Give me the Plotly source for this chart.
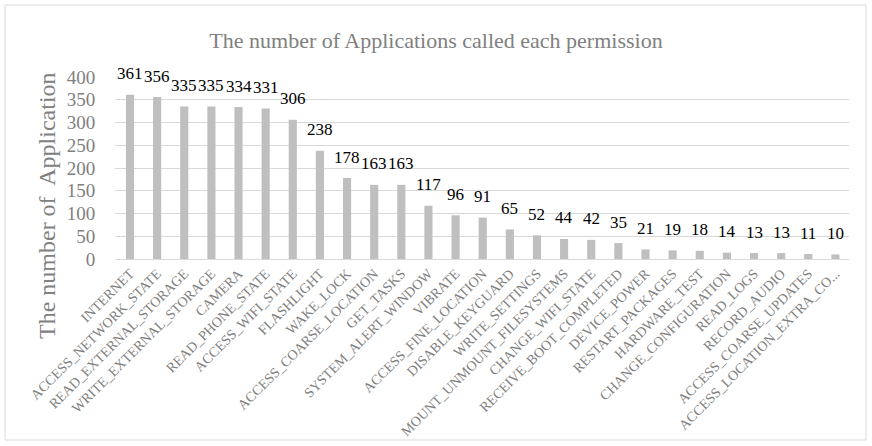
import plotly.graph_objects as go

categories = ["INTERNET", "ACCESS_NETWORK_STATE", "READ_EXTERNAL_STORAGE", "WRITE_EXTERNAL_STORAGE",
              "CAMERA", "READ_PHONE_STATE", "ACCESS_WIFI_STATE", "FLASHLIGHT", "WAKE_LOCK",
              "ACCESS_COARSE_LOCATION", "GET_TASKS", "SYSTEM_ALERT_WINDOW", "VIBRATE",
              "ACCESS_FINE_LOCATION", "DISABLE_KEYGUARD", "WRITE_SETTINGS", "MOUNT_UNMOUNT_FILESYSTEMS",
              "CHANGE_WIFI_STATE", "RECEIVE_BOOT_COMPLETED", "DEVICE_POWER", "RESTART_PACKAGES",
              "HARDWARE_TEST", "CHANGE_CONFIGURATION", "READ_LOGS", "RECORD_AUDIO",
              "ACCESS_COARSE_UPDATES", "ACCESS_LOCATION_EXTRA_CO..."]
values = [361, 356, 335, 335, 334, 331, 306, 238, 178, 163, 163, 117, 96, 91, 65, 52, 44, 42, 35,
          21, 19, 18, 14, 13, 13, 11, 10]
y_ticks = [0, 50, 100, 150, 200, 250, 300, 350, 400]

W, H = 872, 446
ml, mr, mt, mb = 115, 23, 77, 187
pw, ph = W - ml - mr, H - mt - mb

serif = "Liberation Serif"
grey = "#808080"

fig = go.Figure(go.Bar(
    x=categories, y=values,
    marker=dict(color="#bfbfbf", line=dict(width=0)),
    width=0.3,
    hoverinfo="x+y",
))

for c, v in zip(categories, values):
    fig.add_annotation(x=c, y=v, xref="x", yref="y", text=str(v), showarrow=False,
                       yanchor="middle", xanchor="center", yshift=21,
                       font=dict(family=serif, size=17, color="#000000"))

fig.update_layout(
    width=W, height=H,
    margin=dict(l=ml, r=mr, t=mt, b=mb, autoexpand=False),
    paper_bgcolor="white", plot_bgcolor="white",
    showlegend=False,
    title=dict(text="The number of Applications called each permission",
               x=0.5, xanchor="center", y=1 - 40 / H, yanchor="middle",
               font=dict(family=serif, size=22, color=grey)),
    font=dict(family=serif),
)
fig.update_xaxes(
    tickangle=-45, tickfont=dict(family=serif, size=14, color=grey),
    showline=True, linecolor="#d9d9d9", linewidth=1, ticks="",
    showgrid=False, automargin=False,
)
fig.update_yaxes(
    range=[0, 400], tickvals=y_ticks, tickfont=dict(family=serif, size=19, color=grey),
    showgrid=True, gridcolor="#d9d9d9", gridwidth=1, zeroline=False,
    ticks="outside", ticklen=15, tickcolor="rgba(0,0,0,0)", automargin=False,
)
fig.add_annotation(text="The number of&nbsp; Application", xref="paper", yref="paper",
                   x=(47 - ml) / pw, y=(259 - 206) / ph, xanchor="center", yanchor="middle",
                   textangle=-90, showarrow=False,
                   font=dict(family=serif, size=24, color=grey))

x0 = (5 - ml) / pw
x1 = (866 - ml) / pw
y0 = (mt + ph - 440) / ph
y1 = (mt + ph - 5) / ph
fig.add_shape(type="rect", xref="paper", yref="paper", x0=x0, x1=x1, y0=y0, y1=y1,
              line=dict(color="#d9d9d9", width=1), fillcolor="rgba(0,0,0,0)", layer="below")

fig.write_html("out.html")
